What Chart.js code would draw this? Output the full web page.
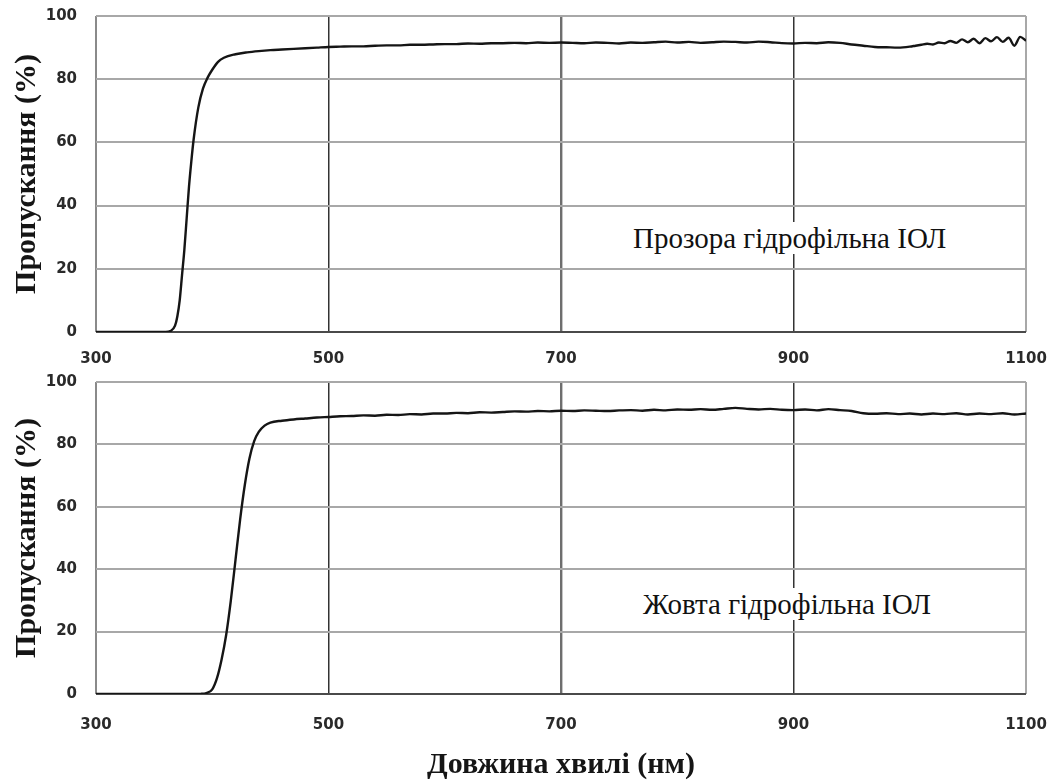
<!DOCTYPE html>
<html>
<head>
<meta charset="utf-8">
<script src="https://cdn.jsdelivr.net/npm/chart.js@4"></script>
<style>
  body { margin: 0; background: #fff; width: 1050px; height: 783px; position: relative; overflow: hidden; }
  canvas { position: absolute; left: 0; }
  .note { position: absolute; font: 29px "Liberation Serif", serif; line-height: 32px; background: #fff; padding: 0 3px; color: #111; white-space: nowrap; }
</style>
</head>
<body>
<canvas id="clearChart" width="1050" height="372" style="top:0"></canvas>
<canvas id="yellowChart" width="1050" height="423" style="top:360px"></canvas>
<div class="note" style="left:630px;top:222px">Прозора гідрофільна ІОЛ</div>
<div class="note" style="left:640px;top:588px">Жовта гідрофільна ІОЛ</div>

<script>
// tick labels
const xTicks = [300, 500, 700, 900, 1100];
const yTicks = [0, 20, 40, 60, 80, 100];

// clear hydrophilic IOL: wavelength (nm) and transmission (%)
const clearWl = [300, 320, 340, 360, 364, 368, 370, 372, 374, 376, 378, 380, 382, 384, 388, 392, 396, 400, 405, 410,
  420, 430, 440, 450, 460, 470, 480, 490,
  500, 510, 520, 530, 540, 550, 560, 570, 580, 590, 600, 610, 620, 630, 640, 650, 660, 670, 680, 690,
  700, 710, 720, 730, 740, 750, 760, 770, 780, 790, 800, 810, 820, 830, 840, 850, 860, 870, 880, 890,
  900, 910, 920, 930, 940, 950, 960, 970, 980, 990, 1000,
  1005, 1010, 1015, 1020, 1025, 1030, 1035, 1040, 1045, 1050, 1055, 1060, 1065, 1070, 1075, 1080, 1085, 1090, 1095, 1100];
const clearT = [0, 0, 0, 0, 0.3, 2, 5, 10, 18, 26, 36, 46, 54, 61, 71, 77, 80.5, 83, 85.5, 86.8,
  87.9, 88.5, 88.9, 89.2, 89.4, 89.6, 89.8, 90.0,
  90.2, 90.3, 90.4, 90.4, 90.6, 90.7, 90.7, 90.9, 90.9, 91.0, 91.1, 91.1, 91.3, 91.2, 91.4, 91.4, 91.5, 91.4, 91.6, 91.5,
  91.6, 91.5, 91.4, 91.6, 91.5, 91.3, 91.6, 91.5, 91.7, 91.9, 91.6, 91.8, 91.5, 91.7, 91.9, 91.8, 91.6, 91.9, 91.7, 91.4,
  91.3, 91.5, 91.4, 91.7, 91.5, 91.0, 90.6, 90.2, 90.1, 90.0, 90.3,
  90.6, 90.9, 91.2, 91.0, 91.6, 91.4, 92.1, 91.5, 92.6, 91.7, 92.8, 91.4, 93.0, 92.0, 93.3, 91.8, 93.1, 90.6, 93.4, 92.2];

// yellow hydrophilic IOL
const yellowWl = [300, 320, 340, 360, 380, 390, 395, 400, 404, 408, 412, 416, 420, 424, 428, 432, 436, 440,
  445, 450, 460, 470, 480, 490,
  500, 510, 520, 530, 540, 550, 560, 570, 580, 590, 600, 610, 620, 630, 640, 650, 660, 670, 680, 690,
  700, 710, 720, 730, 740, 750, 760, 770, 780, 790, 800, 810, 820, 830, 840, 850, 860, 870, 880, 890,
  900, 910, 920, 930, 940, 950, 960, 970, 980, 990, 1000, 1010, 1020, 1030, 1040, 1050, 1060, 1070, 1080, 1090, 1100];
const yellowT = [0, 0, 0, 0, 0, 0.05, 0.3, 1.5, 5, 11, 19, 30, 43, 56, 67, 75.5, 81, 84,
  86, 87, 87.6, 88, 88.3, 88.6,
  88.8, 89.0, 89.1, 89.3, 89.2, 89.5, 89.4, 89.7, 89.6, 89.9, 89.9, 90.1, 90.0, 90.3, 90.2, 90.4, 90.6, 90.5, 90.7, 90.6,
  90.8, 90.7, 90.9, 90.8, 90.7, 90.9, 91.0, 90.8, 91.1, 90.9, 91.2, 91.1, 91.3, 91.1, 91.4, 91.7, 91.4, 91.2, 91.4, 91.1,
  91.0, 91.2, 90.9, 91.3, 91.0, 90.7, 90.0, 89.8, 90.0, 89.7, 89.9, 89.6, 89.9, 89.7, 90.0, 89.6, 89.9, 89.7, 90.0, 89.6, 89.9];

const tickFont = { family: 'DejaVu Sans', size: 15, weight: 'bold' };
const titleFont = { family: 'Liberation Serif', size: 30, weight: 'bold' };

function buildChart(id, wl, values, opt) {
  return new Chart(document.getElementById(id), {
    type: 'line',
    data: {
      datasets: [{
        data: wl.map((x, i) => ({ x, y: values[i] })),
        borderColor: '#151515',
        borderWidth: 2.4,
        pointRadius: 0,
        cubicInterpolationMode: 'monotone',
        fill: false
      }]
    },
    options: {
      responsive: false,
      animation: false,
      events: [],
      layout: { padding: { top: opt.top, right: 24, left: 0, bottom: 0 } },
      plugins: { legend: { display: false }, tooltip: { enabled: false } },
      scales: {
        x: {
          type: 'linear', min: 300, max: 1100,
          afterBuildTicks: s => { s.ticks = xTicks.map(v => ({ value: v })); },
          afterFit: s => { s.height = opt.xHeight; s.paddingLeft = 0; s.paddingRight = 0; },
          ticks: { font: tickFont, color: '#2a2a2a', padding: opt.xPad, maxRotation: 0, callback: v => String(v) },
          border: { display: false },
          grid: {
            drawTicks: false,
            color: c => c.tick.value === 300 ? '#8a8a8a' : c.tick.value === 1100 ? '#a8a8a8' : c.tick.value === 700 ? '#6e6e6e' : '#333',
            lineWidth: c => c.tick.value === 700 ? 2.4 : c.tick.value === 300 || c.tick.value === 1100 ? 2 : 1.5
          },
          title: { display: opt.xTitle, text: 'Довжина хвилі (нм)', font: titleFont, color: '#151515', padding: { top: 0, bottom: 0 } }
        },
        y: {
          min: 0, max: 100,
          afterBuildTicks: s => { s.ticks = yTicks.map(v => ({ value: v })); },
          afterFit: s => { s.width = 96; s.paddingTop = 0; s.paddingBottom = 0; },
          ticks: { font: tickFont, color: '#2a2a2a', padding: 19 },
          border: { display: false },
          grid: {
            drawTicks: false,
            color: c => c.tick.value === 0 ? '#4a4a4a' : '#a8a8a8',
            lineWidth: 2
          },
          title: { display: true, text: 'Пропускання (%)', font: titleFont, color: '#151515', padding: { top: 9, bottom: 0 } }
        }
      }
    }
  });
}

buildChart('clearChart', clearWl, clearT, { top: 16, xHeight: 40, xPad: 18, xTitle: false });
buildChart('yellowChart', yellowWl, yellowT, { top: 22, xHeight: 89, xPad: 22, xTitle: true });
</script>
</body>
</html>
